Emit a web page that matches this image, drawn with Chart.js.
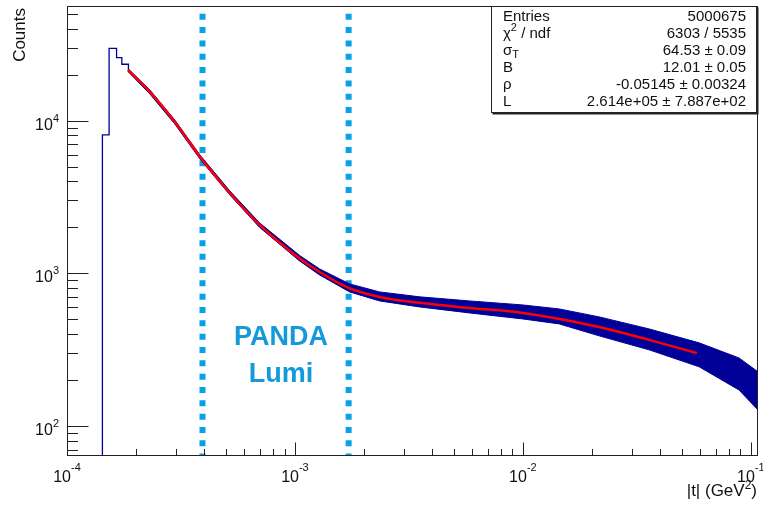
<!DOCTYPE html>
<html>
<head>
<meta charset="utf-8">
<script src="https://cdn.jsdelivr.net/npm/chart.js@4.4.1/dist/chart.umd.min.js"></script>
<style>
  body { margin: 0; background: #fff; }
  canvas { display: block; }
</style>
</head>
<body>
<canvas id="plot" width="763" height="505"></canvas>
<script>
// axis ranges (|t| in GeV^2, counts)
const X_MIN = 1e-4, X_MAX = 0.1075;
const Y_MIN = 63.5, Y_MAX = 56400;

// first wide bins at low |t| (left edges, content); first point = empty bin
const stepT      = [1.43e-4, 1.43e-4, 1.53e-4, 1.65e-4, 1.74e-4, 1.86e-4];
const stepCounts = [1,       8060,    29800,   25860,   23420,   21480];

// envelope of the fluctuating histogram (upper / lower edge)
const bandT    = [1.85e-4, 2.31e-4, 2.97e-4, 3.83e-4, 5.18e-4, 7.0e-4, 1.048e-3, 1.283e-3, 1.737e-3, 2.35e-3, 3.52e-3, 5.82e-3, 1.0e-2, 1.443e-2, 2.16e-2, 3.58e-2, 5.93e-2, 8.87e-2, 0.1075];
const bandHigh = [21980,   15890,   10110,   5961,    3464,    2137,   1309,     1068,     852,      755,     701,     659,     620,    584,      518,     432,     350,     279,     226];
const bandLow  = [21010,   14960,   9515,    5611,    3261,    1997,   1205,     975,      755,      659,     602,     550,     502,    466,      389,     315,     244,     172,     127];

// fit curve
const fitT      = [1.85e-4, 2.31e-4, 2.97e-4, 3.93e-4, 5.18e-4, 7.0e-4, 1.0e-3, 1.283e-3, 1.72e-3, 2.35e-3, 3.52e-3, 5.82e-3, 1.0e-2, 2.16e-2, 3.58e-2, 5.8e-2];
const fitCounts = [21480,   15420,   9800,    5530,    3360,    2073,   1319,   1020,     802,     700,     640,     593,     550,    445,     366,     300];

// PANDA Lumi acceptance cuts
const cutT = [3.93e-4, 1.72e-3];

// axis labels
const xMajor = [1e-4, 1e-3, 1e-2, 1e-1];
const xExp   = ['-4', '-3', '-2', '-1'];
const yMajor = [1e2, 1e3, 1e4];
const yExp   = ['2', '3', '4'];

// stats box
const statNames  = ['Entries', 'χ^{2} / ndf', 'σ_{T}', 'B', 'ρ', 'L'];
const statValues = ['5000675', '6303 / 5535', '64.53 ± 0.09', '12.01 ± 0.05', '-0.05145 ± 0.00324', '2.614e+05 ± 7.887e+02'];

const HIST_BLUE = '#000099';
const CUT_BLUE = '#0aa0e4';
const FONT = '"Liberation Sans", Arial, sans-serif';

function pts(xs, ys) {
    return xs.map((v, i) => ({x: v, y: ys[i]}));
}

// draws text with ^{..} and _{..} pieces
function richText(ctx, str, x, y, size, align) {
    const parts = [];
    const re = /(\^|_)\{([^}]*)\}/g;
    let last = 0, m;
    while ((m = re.exec(str))) {
        if (m.index > last) parts.push({t: str.slice(last, m.index), k: 0});
        parts.push({t: m[2], k: m[1] === '^' ? 1 : -1});
        last = re.lastIndex;
    }
    if (last < str.length) parts.push({t: str.slice(last), k: 0});

    let total = 0;
    parts.forEach(p => {
        ctx.font = (p.k ? Math.round(size * 0.7) : size) + 'px ' + FONT;
        p.w = ctx.measureText(p.t).width;
        total += p.w;
    });
    let cx = align === 'right' ? x - total : (align === 'center' ? x - total / 2 : x);
    ctx.textAlign = 'left';
    parts.forEach(p => {
        ctx.font = (p.k ? Math.round(size * 0.7) : size) + 'px ' + FONT;
        let dy = 0;
        if (p.k === 1) dy = -size * 0.42;
        if (p.k === -1) dy = size * 0.25;
        ctx.fillText(p.t, cx, y + dy);
        cx += p.w;
    });
}

function powLabel(ctx, x, yBase, exp, align, raise) {
    ctx.font = '16px ' + FONT;
    const w1 = ctx.measureText('10').width;
    ctx.font = '11px ' + FONT;
    const w2 = ctx.measureText(exp).width;
    const x0 = align === 'right' ? x - w1 - w2 : x - (w1 + w2) / 2;
    ctx.textAlign = 'left';
    ctx.font = '16px ' + FONT;
    ctx.fillText('10', x0, yBase);
    ctx.font = '11px ' + FONT;
    ctx.fillText(exp, x0 + w1, yBase - raise);
}

// frame, inner ticks, labels, stats box (ROOT look)
const rootStyle = {
    id: 'rootStyle',
    afterDatasetsDraw(chart) {
        const {ctx, chartArea: a, scales: {x, y}} = chart;
        const L = Math.round(a.left) + 0.5, B = Math.round(a.bottom) - 0.5;
        const R = Math.round(a.right) - 0.5, T = Math.round(a.top) + 0.5;
        ctx.save();
        ctx.strokeStyle = '#222';
        ctx.lineWidth = 1;
        ctx.strokeRect(L, T, R - L, B - T);

        ctx.beginPath();
        for (let k = 1; k <= 4; k++) {
            for (let m = 1; m <= 9; m++) {
                const v = m * Math.pow(10, k);
                if (v < Y_MIN || v > Y_MAX) continue;
                const py = Math.round(y.getPixelForValue(v)) + 0.5;
                ctx.moveTo(L, py);
                ctx.lineTo(L + (m === 1 ? 21 : 10.5), py);
            }
        }
        for (let k = -4; k <= -1; k++) {
            for (let m = 1; m <= 9; m++) {
                const v = m * Math.pow(10, k);
                if (v < X_MIN || v > X_MAX) continue;
                const px = Math.round(x.getPixelForValue(v)) + 0.5;
                ctx.moveTo(px, B);
                ctx.lineTo(px, B - (m === 1 ? 13 : 6.5));
            }
        }
        ctx.stroke();

        ctx.fillStyle = '#111';
        ctx.textBaseline = 'alphabetic';
        yMajor.forEach((v, i) => {
            powLabel(ctx, 59, y.getPixelForValue(v) + 9, yExp[i], 'right', 8);
        });
        xMajor.forEach((v, i) => {
            powLabel(ctx, x.getPixelForValue(v), 482, xExp[i], 'center', 11);
        });

        // axis titles
        richText(ctx, '|t| (GeV^{2})', 757, 496, 17, 'right');
        ctx.save();
        ctx.translate(25, 8);
        ctx.rotate(-Math.PI / 2);
        ctx.font = '17px ' + FONT;
        ctx.textAlign = 'right';
        ctx.fillText('Counts', 0, 0);
        ctx.restore();

        // PANDA Lumi
        ctx.fillStyle = '#1499da';
        ctx.font = 'bold 27px ' + FONT;
        ctx.textAlign = 'center';
        ctx.fillText('PANDA', 281, 345);
        ctx.fillText('Lumi', 281, 382);

        // stats box
        const bx = 491.5, by = 6.5, bw = 265, bh = 106;
        ctx.fillStyle = '#fff';
        ctx.fillRect(bx, by, bw, bh);
        ctx.strokeStyle = '#222';
        ctx.strokeRect(bx, by, bw, bh);
        ctx.lineWidth = 2;
        ctx.beginPath();
        ctx.moveTo(bx + 1, by + bh + 1);
        ctx.lineTo(bx + bw + 1, by + bh + 1);
        ctx.lineTo(bx + bw + 1, by + 1);
        ctx.stroke();
        ctx.fillStyle = '#111';
        statNames.forEach((s, i) => {
            const base = 20.5 + i * 17.1;
            richText(ctx, s, 503, base, 15, 'left');
            richText(ctx, statValues[i], 746, base, 15, 'right');
        });
        ctx.restore();
    }
};

new Chart(document.getElementById('plot'), {
    type: 'line',
    data: {
        datasets: [
            {
                label: 'fit',
                data: pts(fitT, fitCounts),
                borderColor: '#ff0000',
                borderWidth: 2.5,
                cubicInterpolationMode: 'monotone',
                pointRadius: 0,
                fill: false,
                order: 0
            },
            {
                label: 'hist high',
                data: pts(bandT, bandHigh),
                borderColor: HIST_BLUE,
                backgroundColor: HIST_BLUE,
                borderWidth: 1,
                pointRadius: 0,
                fill: '+1',
                order: 2
            },
            {
                label: 'hist low',
                data: pts(bandT, bandLow),
                borderColor: HIST_BLUE,
                borderWidth: 1,
                pointRadius: 0,
                fill: false,
                order: 2
            },
            {
                label: 'hist steps',
                data: pts(stepT, stepCounts),
                borderColor: HIST_BLUE,
                borderWidth: 1.3,
                stepped: true,
                pointRadius: 0,
                fill: false,
                order: 2
            },
            {
                label: 'cut low',
                data: [{x: cutT[0], y: Y_MAX}, {x: cutT[0], y: Y_MIN}],
                borderColor: CUT_BLUE,
                borderWidth: 6,
                borderDash: [6, 7.33],
                borderDashOffset: 5.6,
                borderCapStyle: 'butt',
                pointRadius: 0,
                fill: false,
                order: 3
            },
            {
                label: 'cut high',
                data: [{x: cutT[1], y: Y_MAX}, {x: cutT[1], y: Y_MIN}],
                borderColor: CUT_BLUE,
                borderWidth: 6,
                borderDash: [6, 7.33],
                borderDashOffset: 5.6,
                borderCapStyle: 'butt',
                pointRadius: 0,
                fill: false,
                order: 3
            }
        ]
    },
    options: {
        responsive: false,
        animation: false,
        devicePixelRatio: 1,
        layout: {padding: {left: 67, top: 6, right: 5, bottom: 49}},
        plugins: {legend: {display: false}, tooltip: {enabled: false}},
        scales: {
            x: {type: 'logarithmic', min: X_MIN, max: X_MAX, display: false},
            y: {type: 'logarithmic', min: Y_MIN, max: Y_MAX, display: false}
        }
    },
    plugins: [rootStyle]
});
</script>
</body>
</html>
